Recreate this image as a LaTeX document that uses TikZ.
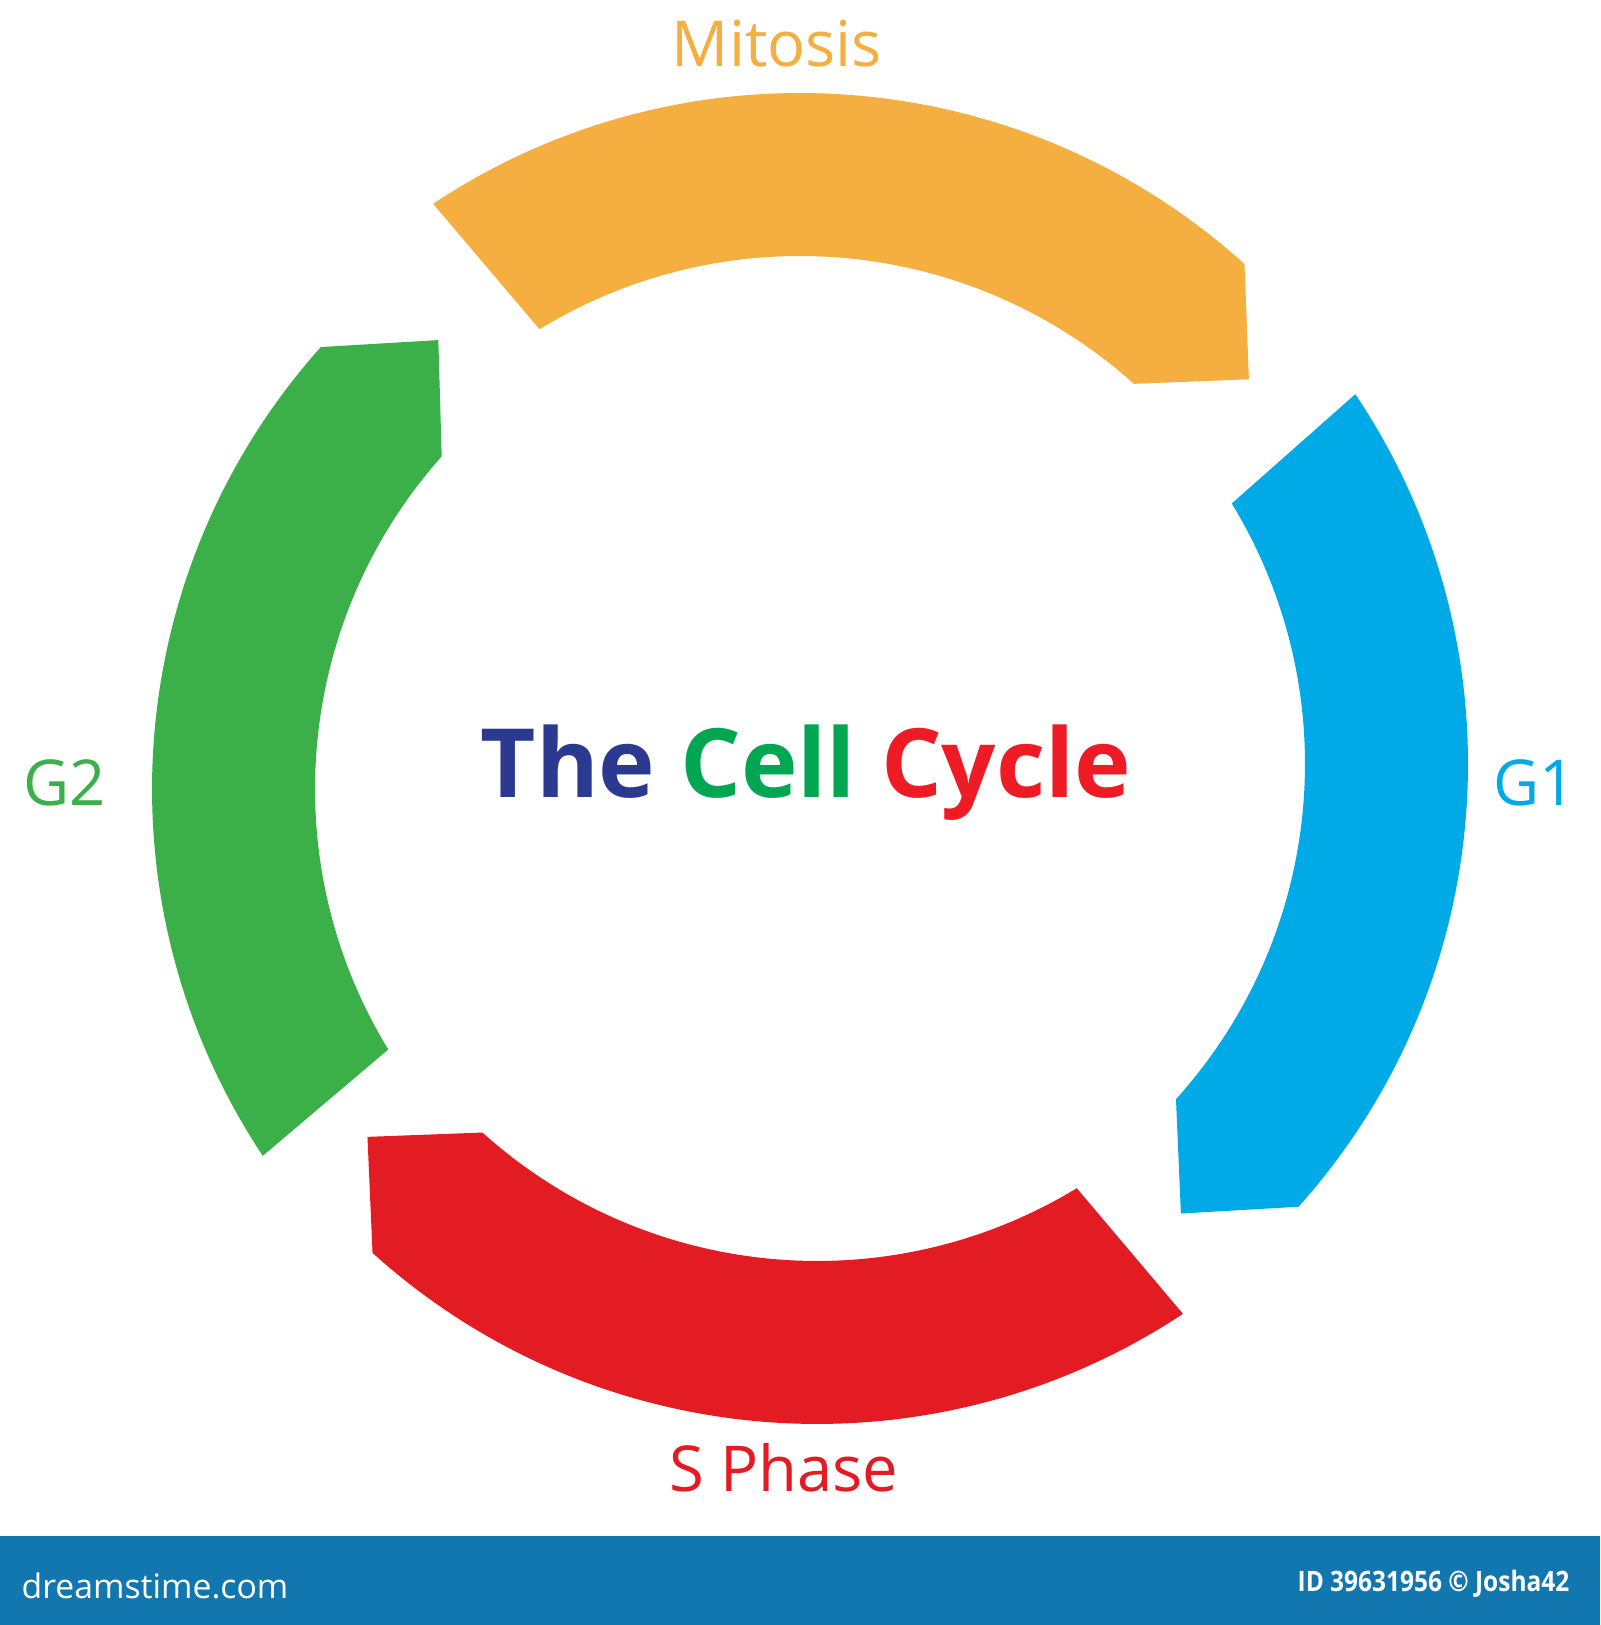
\documentclass[tikz,border=0pt]{standalone}
\usepackage{fontspec}
\setmainfont{Open Sans}
\newfontfamily\estreita[FakeStretch=0.87]{Open Sans}
\usetikzlibrary{positioning}
\definecolor{laranja}{HTML}{F5AE40}
\definecolor{azul}{HTML}{00AAE7}
\definecolor{vermelho}{HTML}{E31B23}
\definecolor{verde}{HTML}{3BB049}
\definecolor{marinho}{HTML}{2B3990}
\definecolor{verdet}{HTML}{00A651}
\definecolor{vermelhot}{HTML}{ED1C24}
\definecolor{faixa}{HTML}{1177AE}

\begin{document}
\begin{tikzpicture}[
    x=0.01cm, y=0.01cm,
    rot/.style={font=\fontsize{18}{20}\selectfont, anchor=base},
    titulo/.style={font=\fontsize{27.2}{32}\selectfont\bfseries, anchor=base},
    marca/.style={text=white, inner sep=0pt}
]
\useasboundingbox (0,0) rectangle (1600,1625);
% fatias do ciclo: cor/centro/inicio ext./inicio int./cabeca ext./cabeca int./ponta
\foreach \cor/\cx/\cy/\iniE/\iniI/\cabE/\cabI/\pta in {
    laranja/800/869/123.6/121.4/47.9/48.1/40,
    azul/805/861/33.9/31.4/-41.9/-42.1/-50.1,
    vermelho/817/864/-56.5/-58.7/-132.1/-132/-140.1,
    verde/815/836/-146.4/-148.6/-221.8/-221.7/-230}
  \fill[\cor, shift={(\cx,\cy)}] (\iniE:663) arc[start angle=\iniE, end angle=\cabE, radius=663]
    -- (\pta:586) -- (\cabI:500) arc[start angle=\cabI, end angle=\iniI, radius=500] -- cycle;
\node[titulo] (titulo) at (806,827) {\textcolor{marinho}{The} \textcolor{verdet}{Cell} \textcolor{vermelhot}{Cycle}};
\node[rot, text=laranja] (mitose) at (777,1558) {Mitosis};
\node[rot, text=azul] (g1) at (1535,819) {G1};
\node[rot, text=verde] (g2) at (65,819) {G2};
\node[rot, text=vermelho] (fases) at (784,133) {S Phase};
% faixa inferior
\fill[faixa] (0,0) rectangle (1600,89);
\node[marca, anchor=base west, font=\fontsize{9.6}{10}\selectfont] (site) at (21,27) {dreamstime.com};
\node[marca, anchor=base east, font=\fontsize{8}{10}\selectfont\estreita\bfseries] (id) at (1570,34) {ID 39631956 © Josha42};
\end{tikzpicture}
\end{document}
